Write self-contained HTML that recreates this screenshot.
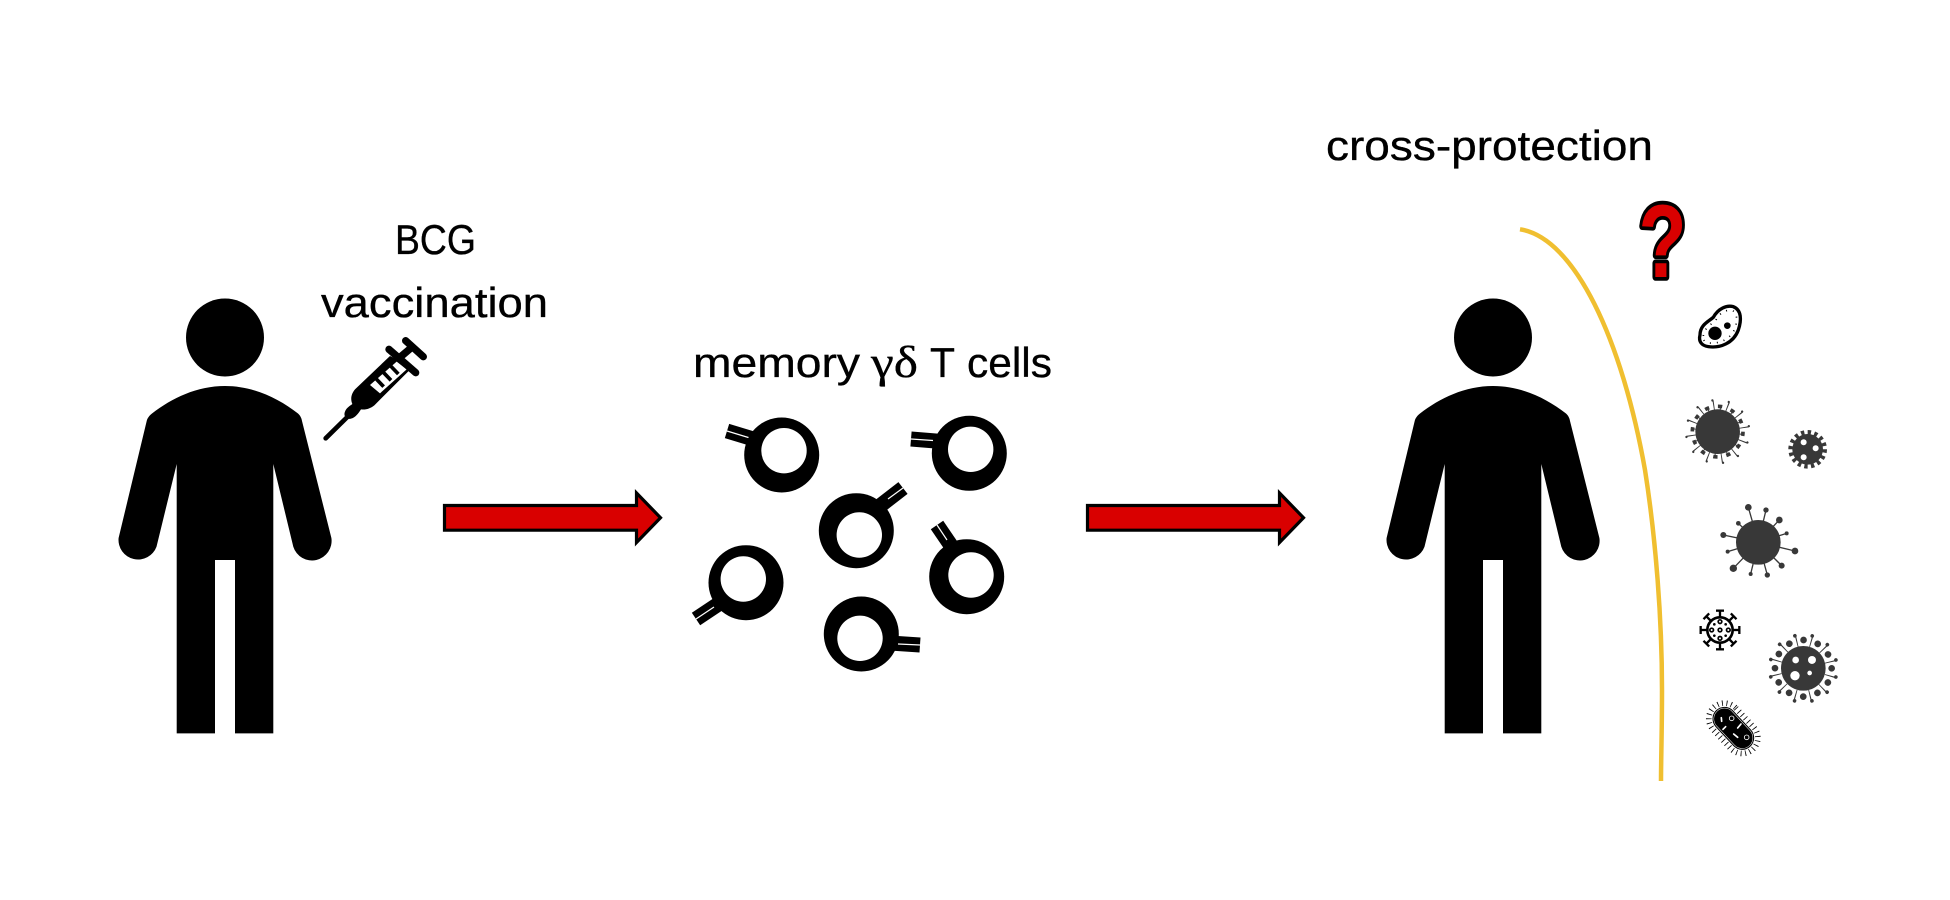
<!DOCTYPE html>
<html>
<head>
<meta charset="utf-8">
<style>
html,body{margin:0;padding:0;background:#fff;}
svg{display:block;}
text{font-family:"Liberation Sans",sans-serif;font-size:41.5px;fill:#000;stroke:#000;stroke-width:.35px;}
</style>
</head>
<body>
<svg width="1950" height="900" viewBox="0 0 1950 900" xmlns="http://www.w3.org/2000/svg">
<defs>
<g id="person">
<circle cx="225" cy="337.5" r="39"/>
<path d="M176.7,733.4 V464 L156.5,546.7 A19.6,19.6 0 0 1 118.6,538 L146.7,421 C147.5,418 149,416 152,413.5 C172,398 197,386 225,386 C253,386 278,398 298,413.5 C300.5,416 301.5,418 302,421 L331.4,538 A19.6,19.6 0 0 1 293.3,546.7 L273.3,464 V733.4 H235 V560 H215 V733.4 Z"/>
</g>
<path id="arrow" d="M444.5,505.5 H636.5 V493 L660.5,517.7 L636.5,542.5 V530.2 H444.5 Z" fill="#d90000" stroke="#000" stroke-width="3.2"/>
<g id="tspike" stroke="#000" stroke-width="7" fill="none">
<line x1="0" y1="-38" x2="0" y2="-58"/>
<line x1="-12" y1="-58" x2="12" y2="-58"/>
</g>
</defs>

<use href="#person"/>
<use href="#person" x="1268"/>

<!-- syringe -->
<g transform="translate(315,330) scale(.3333)">
<line x1="32" y1="325" x2="100" y2="258" stroke="#000" stroke-width="14" stroke-linecap="round"/>
<path d="M90,245 C95,232 105,228 112,222 C105,205 110,190 120,178 L225,78 L292,112 L178,226 C165,236 152,240 138,238 C130,250 122,262 108,266 C95,270 84,258 90,245 Z" fill="#000"/>
<path d="M165,165 L245,95 L275,118 L195,190 Z" fill="#fff"/>
<path d="M183,146 L206,170 M205,127 L228,151 M227,108 L250,132" stroke="#000" stroke-width="11" fill="none"/>
<line x1="222" y1="58" x2="302" y2="128" stroke="#000" stroke-width="22" stroke-linecap="round"/>
<line x1="255" y1="82" x2="295" y2="48" stroke="#000" stroke-width="22"/>
<line x1="272" y1="32" x2="325" y2="80" stroke="#000" stroke-width="22" stroke-linecap="round"/>
</g>

<!-- arrows -->
<use href="#arrow"/>
<use href="#arrow" x="643"/>

<!-- labels -->
<text x="395" y="254" textLength="81" lengthAdjust="spacingAndGlyphs">BCG</text>
<text x="321" y="317" textLength="227" lengthAdjust="spacingAndGlyphs">vaccination</text>
<text x="693" y="377" textLength="167" lengthAdjust="spacingAndGlyphs">memory</text>
<text x="871" y="377" textLength="47" lengthAdjust="spacingAndGlyphs" style="font-family:'Liberation Serif',serif;font-size:44px">γδ</text>
<text x="930" y="377" textLength="25" lengthAdjust="spacingAndGlyphs">T</text>
<text x="967" y="377" textLength="85" lengthAdjust="spacingAndGlyphs">cells</text>
<text x="1326" y="160" textLength="327" lengthAdjust="spacingAndGlyphs">cross-protection</text>

<!-- T cells -->
<g stroke="#000" stroke-width="15" fill="none">
<line x1="760" y1="441" x2="727" y2="431"/>
<line x1="948" y1="442" x2="911" y2="439"/>
<line x1="881" y1="505" x2="903" y2="488"/>
<line x1="954" y1="550" x2="937" y2="525"/>
<line x1="720" y1="603" x2="696" y2="619"/>
<line x1="890" y1="643" x2="920" y2="645"/>
</g>
<g stroke="#fff" stroke-width="1.2" fill="none">
<line x1="750" y1="438" x2="727" y2="431"/>
<line x1="933" y1="440.5" x2="911" y2="439"/>
<line x1="888" y1="499" x2="903" y2="488"/>
<line x1="947" y1="540" x2="937" y2="525"/>
<line x1="714" y1="607" x2="696" y2="619"/>
<line x1="898" y1="644" x2="920" y2="645"/>
</g>
<circle cx="781.7" cy="455" r="37.5"/><circle cx="784" cy="450.7" r="22.7" fill="#fff"/>
<circle cx="969.3" cy="453.3" r="37.5"/><circle cx="970.7" cy="449.3" r="22.7" fill="#fff"/>
<circle cx="856.3" cy="530.7" r="37.5"/><circle cx="859.3" cy="535" r="22.7" fill="#fff"/>
<circle cx="966.7" cy="576.7" r="37.5"/><circle cx="971" cy="575" r="22.7" fill="#fff"/>
<circle cx="746" cy="582.7" r="37.5"/><circle cx="743.3" cy="579" r="22.7" fill="#fff"/>
<circle cx="861.3" cy="634" r="37.5"/><circle cx="860" cy="638.3" r="22.7" fill="#fff"/>

<!-- barrier curve -->
<path d="M1520,229.3 C1575,238 1622,340 1645,470 C1656,540 1662,620 1662,690 C1662,730 1661,760 1661,781" fill="none" stroke="#f0bf30" stroke-width="4.5"/>

<!-- question mark -->
<text transform="translate(1638.5,277) scale(.82,1.08)" x="0" y="0" style="font-family:'Liberation Sans',sans-serif;font-weight:bold;font-size:96px;fill:#d90000;stroke:#000;stroke-width:7;stroke-linejoin:round;paint-order:stroke">?</text>

<!-- zoom-3 coordinates -->
<g transform="translate(1620,180) scale(.3333)">
<path d="M240,465 C240,435 265,425 280,412 C295,385 320,375 340,380 C365,390 365,420 355,450 C340,490 300,505 265,500 C245,497 235,485 240,465 Z" fill="#fff" stroke="#000" stroke-width="10"/>
<path d="M250,468 C252,445 272,435 288,420 C300,397 320,387 338,392 C353,400 352,425 345,445 C332,478 298,492 268,489 C254,487 248,480 250,468 Z" fill="none" stroke="#000" stroke-width="5" stroke-dasharray="3 18"/>
<circle cx="285" cy="460" r="20"/><circle cx="322" cy="437" r="10"/>
<!-- virus 1 -->
<g transform="translate(293,755) rotate(-10)" fill="none">
<circle r="80" stroke="#383838" stroke-width="28" stroke-dasharray="3 38.9"/>
<circle r="95" stroke="#383838" stroke-width="7" stroke-dasharray="0.01 49.74" stroke-linecap="round"/>
<circle r="70" stroke="#383838" stroke-width="8" stroke-dasharray="3 33.65" stroke-dashoffset="-18.3"/>
<circle r="76" stroke="#383838" stroke-width="11" stroke-dasharray="13 26.8" stroke-dashoffset="-13.4"/>
<circle r="67" fill="#383838"/>
</g>
<!-- virus 2 -->
<g transform="translate(563,808)">
<circle r="46" fill="#383838"/>
<circle r="51" fill="none" stroke="#383838" stroke-width="14" stroke-dasharray="10 10"/>
<circle cx="-12" cy="-21" r="9" fill="#fff"/><circle cx="24" cy="-3" r="9" fill="#fff"/><circle cx="-12" cy="24" r="9" fill="#fff"/>
</g>
</g>

<!-- zoom-4 coordinates -->
<g transform="translate(1660,480) scale(.3333)">
<!-- virus 3 -->
<g stroke="#383838" stroke-width="4">
<line x1="295" y1="187" x2="265" y2="82"/><line x1="295" y1="187" x2="318" y2="90"/>
<line x1="295" y1="187" x2="235" y2="130"/><line x1="295" y1="187" x2="358" y2="120"/>
<line x1="295" y1="187" x2="190" y2="165"/><line x1="295" y1="187" x2="380" y2="160"/>
<line x1="295" y1="187" x2="203" y2="215"/><line x1="295" y1="187" x2="405" y2="213"/>
<line x1="295" y1="187" x2="220" y2="265"/><line x1="295" y1="187" x2="365" y2="257"/>
<line x1="295" y1="187" x2="272" y2="282"/><line x1="295" y1="187" x2="322" y2="285"/>
</g>
<g fill="#383838">
<circle cx="295" cy="187" r="67"/>
<circle cx="265" cy="82" r="10"/><circle cx="318" cy="90" r="8"/><circle cx="235" cy="130" r="7"/><circle cx="358" cy="120" r="10"/>
<circle cx="190" cy="165" r="9"/><circle cx="380" cy="160" r="6"/><circle cx="203" cy="215" r="6"/><circle cx="405" cy="213" r="10"/>
<circle cx="220" cy="265" r="11"/><circle cx="365" cy="257" r="9"/><circle cx="272" cy="282" r="6"/><circle cx="322" cy="285" r="8"/>
</g>
<!-- virus 4 -->
<g transform="translate(180,450)" fill="none" stroke="#000">
<use href="#tspike"/>
<use href="#tspike" transform="rotate(45)"/>
<use href="#tspike" transform="rotate(90)"/>
<use href="#tspike" transform="rotate(135)"/>
<use href="#tspike" transform="rotate(180)"/>
<use href="#tspike" transform="rotate(225)"/>
<use href="#tspike" transform="rotate(270)"/>
<use href="#tspike" transform="rotate(315)"/>
<circle r="38" stroke-width="8" fill="#fff"/>
<circle r="5.5" stroke-width="5"/>
<circle cx="-25" r="5.5" stroke-width="5"/><circle cx="25" r="5.5" stroke-width="5"/>
<circle cy="-25" r="5.5" stroke-width="5"/><circle cy="25" r="5.5" stroke-width="5"/>
<circle cx="-17" cy="-17" r="4" fill="#000" stroke-width="0"/><circle cx="17" cy="-17" r="4" fill="#000" stroke-width="0"/>
<circle cx="-17" cy="17" r="4" fill="#000" stroke-width="0"/><circle cx="17" cy="17" r="4" fill="#000" stroke-width="0"/>
</g>
<!-- virus 5 -->
<g transform="translate(430,565)" fill="none">
<circle r="83.5" stroke="#383838" stroke-width="33" stroke-dasharray="3 40.7" stroke-dashoffset="-21.85"/>
<circle r="101" stroke="#383838" stroke-width="11" stroke-dasharray="0.01 52.87" stroke-linecap="round" stroke-dashoffset="-26.44"/>
<circle r="85" stroke="#383838" stroke-width="20" stroke-dasharray="0.01 44.5" stroke-linecap="round"/>
<circle r="67" fill="#383838"/>
<circle cx="-23" cy="-25" r="10" fill="#fff"/><circle cx="26" cy="-25" r="12" fill="#fff"/>
<circle cx="-25" cy="22" r="14" fill="#fff"/><circle cx="19" cy="14" r="7" fill="#fff"/>
</g>
</g>

<!-- bacillus -->
<g transform="translate(1690,600) scale(.3333)">
<g transform="translate(130,385) rotate(47)" fill="none">
<rect x="-86" y="-47" width="172" height="94" rx="47" stroke="#000" stroke-width="17" stroke-dasharray="2.5 11"/>
<rect x="-75" y="-36" width="150" height="72" rx="36" fill="#000"/>
<rect x="-71" y="-32" width="142" height="64" rx="32" stroke="#fff" stroke-width="1.5"/>
</g>
<g fill="none" stroke="#fff" stroke-width="2.5">
<circle cx="125" cy="355" r="7"/>
<circle cx="170" cy="412" r="7"/>
</g>
<g stroke="#fff" stroke-width="5" stroke-linecap="round">
<line x1="143" y1="384" x2="153" y2="372"/>
<line x1="131" y1="402" x2="143" y2="412"/>
<line x1="94" y1="353" x2="95" y2="364"/>
<line x1="99" y1="388" x2="107" y2="380"/>
</g>
</g>
</svg>
</body>
</html>
